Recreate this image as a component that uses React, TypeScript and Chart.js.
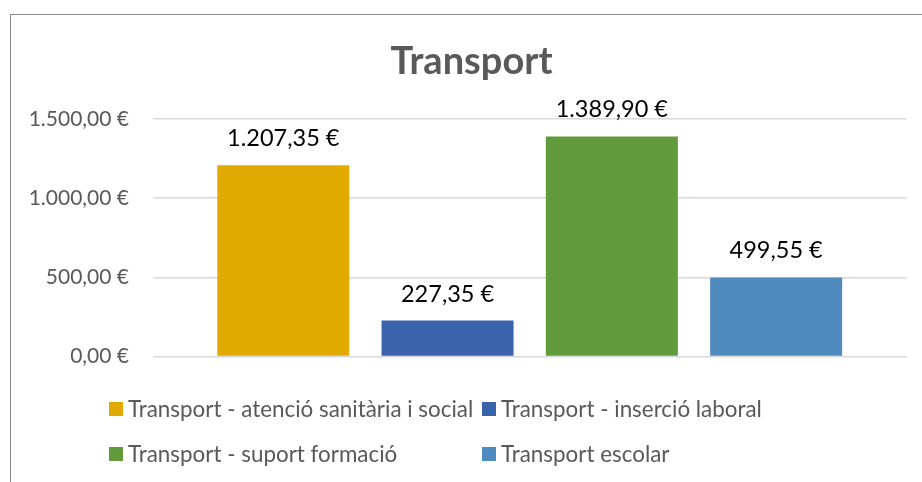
import React, { useEffect, useRef } from "react";
import { Chart, registerables } from "chart.js";

Chart.register(...registerables);

const categories: string[] = [""];
const seriesNames: string[] = [
  "Transport - atenció sanitària i social",
  "Transport - inserció laboral",
  "Transport - suport formació",
  "Transport escolar",
];
const seriesValues: number[] = [1207.35, 227.35, 1389.9, 499.55];
const seriesColors: string[] = ["#E2AA00", "#3B63AC", "#629B3E", "#4F8BBF"];
const yTickValues: number[] = [0, 500, 1000, 1500];
const chartTitle = "Transport";

function fmtEuro(v: number): string {
  const fixed = Math.abs(v).toFixed(2);
  const [i, d] = fixed.split(".");
  const ip = i.replace(/\B(?=(\d{3})+(?!\d))/g, ".");
  return `${v < 0 ? "-" : ""}${ip},${d} €`;
}

const FONT = "Lato";

const titlePlugin = {
  id: "customTitlePlugin",
  afterDraw(chart: any) {
    const ctx = chart.ctx;
    ctx.save();
    ctx.font = `bold 38px ${FONT}`;
    ctx.fillStyle = "#595959";
    ctx.textAlign = "center";
    ctx.textBaseline = "middle";
    ctx.fillText(chartTitle, chart.width / 2, 47.2);
    ctx.restore();
  },
};

const dataLabelPlugin = {
  id: "dataLabelPlugin",
  afterDatasetsDraw(chart: any) {
    const ctx = chart.ctx;
    ctx.save();
    ctx.font = `23.5px ${FONT}`;
    ctx.fillStyle = "#000000";
    ctx.textAlign = "center";
    ctx.textBaseline = "alphabetic";
    chart.data.datasets.forEach((ds: any, i: number) => {
      const meta = chart.getDatasetMeta(i);
      meta.data.forEach((el: any, j: number) => {
        const v = ds.data[j];
        ctx.fillText(fmtEuro(v), el.x, el.y - 19);
      });
    });
    ctx.restore();
  },
};

const customLegendPlugin = {
  id: "customLegendPlugin",
  afterDraw(chart: any) {
    const ctx = chart.ctx;
    ctx.save();
    ctx.font = `22.4px ${FONT}`;
    ctx.textBaseline = "alphabetic";
    ctx.textAlign = "left";
    const box = 14;
    const gap = 5;
    const left = 98;
    const colStep = 373;
    const rowY = [394, 439];
    const datasets = chart.data.datasets;
    datasets.forEach((ds: any, i: number) => {
      const x = left + (i % 2) * colStep;
      const cy = rowY[Math.floor(i / 2)];
      ctx.fillStyle = ds.backgroundColor;
      ctx.fillRect(x, cy - box / 2, box, box);
      ctx.fillStyle = "#595959";
      ctx.fillText(ds.label, x + box + gap, cy + 8);
    });
    ctx.restore();
  },
};

export default function App() {
  const canvasRef = useRef<HTMLCanvasElement | null>(null);

  useEffect(() => {
    if (!canvasRef.current) return;
    const chart = new Chart(canvasRef.current, {
      type: "bar",
      data: {
        labels: categories,
        datasets: seriesNames.map((name, i) => ({
          label: name,
          data: [seriesValues[i]],
          backgroundColor: seriesColors[i],
          borderWidth: 0,
          categoryPercentage: 0.8716,
          barPercentage: 0.8034,
        })),
      },
      options: {
        animation: false,
        responsive: false,
        devicePixelRatio: 1,
        layout: { padding: { left: 0, right: 25.3, top: 104, bottom: 125.5 } },
        plugins: {
          legend: { display: false },
          tooltip: { enabled: false },
          title: { display: false },
        },
        scales: {
          x: { display: false },
          y: {
            min: 0,
            max: 1500,
            afterBuildTicks: (scale: any) => {
              scale.ticks = yTickValues.map((v) => ({ value: v }));
            },
            afterFit: (scale: any) => {
              scale.width = 141.7;
            },
            ticks: {
              padding: 23.7,
              color: "#595959",
              font: { family: FONT, size: 21 },
              callback: (v: any) => fmtEuro(Number(v)),
            },
            grid: { color: "#D9D9D9", lineWidth: 1.5, drawTicks: false },
            border: { display: false },
          },
        },
      },
      plugins: [titlePlugin, dataLabelPlugin, customLegendPlugin],
    });
    return () => chart.destroy();
  }, []);

  return (
    <div
      style={{
        position: "fixed",
        left: 0,
        top: 0,
        width: 922,
        height: 482,
        overflow: "hidden",
        background: "#ffffff",
      }}
    >
      <div
        style={{
          position: "absolute",
          left: 10,
          top: 14,
          width: 960,
          height: 500,
          borderLeft: "1px solid #898989",
          borderTop: "1px solid #898989",
        }}
      >
        <canvas
          ref={canvasRef}
          width={921}
          height={467}
          style={{ display: "block", width: 921, height: 467 }}
        />
      </div>
    </div>
  );
}
